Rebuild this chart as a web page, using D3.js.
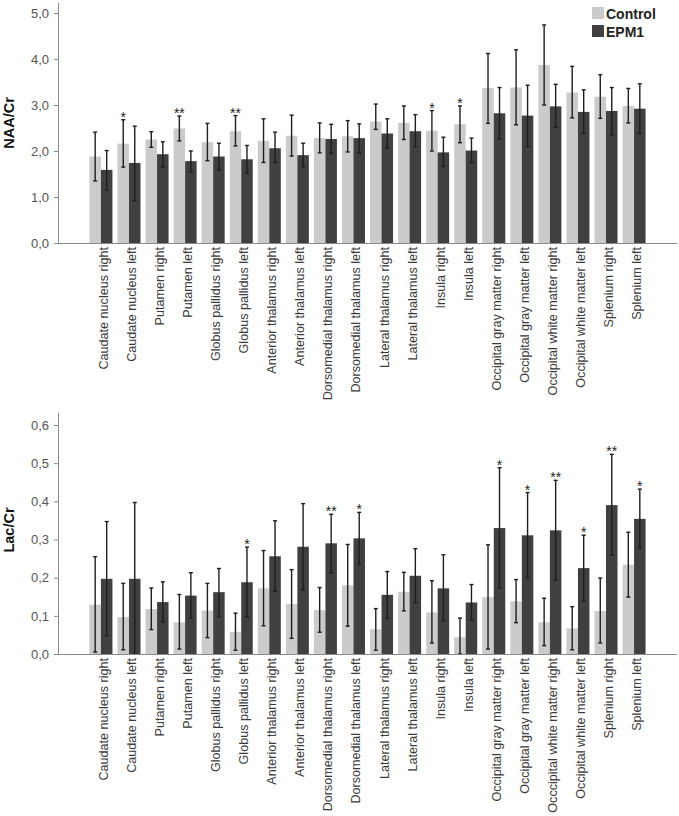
<!DOCTYPE html>
<html>
<head>
<meta charset="utf-8">
<script src="https://cdn.jsdelivr.net/npm/d3@7"></script>
<style>
  body { margin: 0; background: #fff; }
  svg { display: block; font-family: "Liberation Sans", Arial, sans-serif; }
</style>
</head>
<body>
<div id="chart"></div>
<script>
// ---------- DATA ----------
const categoriesTop = ["Caudate nucleus right","Caudate nucleus left","Putamen right","Putamen left","Globus pallidus right","Globus pallidus left","Anterior thalamus right","Anterior thalamus left","Dorsomedial thalamus right","Dorsomedial thalamus left","Lateral thalamus right","Lateral thalamus left","Insula right","Insula left","Occipital gray matter right","Occipital gray matter left","Occipital white matter right","Occipital white matter left","Splenium right","Splenium left"];
const categoriesBottom = ["Caudate nucleus right","Caudate nucleus left","Putamen right","Putamen left","Globus pallidus right","Globus pallidus left","Anterior thalamus right","Anterior thalamus left","Dorsomedial thalamus right","Dorsomedial thalamus left","Lateral thalamus right","Lateral thalamus left","Insula right","Insula left","Occipital gray matter right","Occipital gray matter left","Occcipital white matter right","Occipital white matter left","Splenium right","Splenium left"];
const seriesNames = ["Control","EPM1"];

// NAA/Cr
const naaControl     = [1.88,2.16,2.25,2.49,2.19,2.43,2.22,2.33,2.28,2.32,2.64,2.61,2.44,2.58,3.37,3.38,3.87,3.27,3.18,2.98];
const naaControlLow  = [1.35,1.65,2.08,2.22,1.79,2.11,1.75,1.89,1.96,1.98,2.47,2.25,2.00,2.18,2.60,2.57,3.00,2.72,2.71,2.61];
const naaControlHigh = [2.41,2.68,2.42,2.76,2.60,2.77,2.70,2.78,2.61,2.66,3.02,2.98,2.88,2.98,4.12,4.20,4.74,3.84,3.66,3.36];
const naaEpm         = [1.59,1.74,1.93,1.78,1.88,1.82,2.06,1.91,2.26,2.28,2.38,2.43,1.97,2.01,2.82,2.77,2.97,2.85,2.87,2.92];
const naaEpmLow      = [1.15,0.92,1.65,1.55,1.59,1.52,1.75,1.66,1.95,1.96,2.06,2.09,1.67,1.75,2.26,2.10,2.51,2.38,2.35,2.38];
const naaEpmHigh     = [2.01,2.54,2.20,2.00,2.17,2.12,2.41,2.17,2.58,2.59,2.70,2.79,2.30,2.28,3.38,3.43,3.45,3.33,3.38,3.46];
const naaStars       = ["","*","","**","","**","","","","","","","*","*","","","","","",""];
const naaTicks       = [0,1,2,3,4,5];

// Lac/Cr
const lacControl     = [0.129,0.097,0.118,0.083,0.114,0.058,0.172,0.131,0.115,0.180,0.065,0.163,0.109,0.044,0.149,0.138,0.083,0.067,0.113,0.234];
const lacControlLow  = [0.005,0.011,0.064,0.013,0.043,0.010,0.074,0.041,0.057,0.073,0.010,0.113,0.029,0.000,0.013,0.082,0.022,0.011,0.029,0.149];
const lacControlHigh = [0.255,0.185,0.173,0.156,0.185,0.107,0.271,0.221,0.174,0.287,0.119,0.214,0.192,0.094,0.286,0.195,0.146,0.124,0.199,0.319];
const lacEpm         = [0.197,0.197,0.136,0.153,0.162,0.188,0.256,0.281,0.290,0.303,0.155,0.205,0.172,0.135,0.330,0.311,0.324,0.225,0.390,0.354];
const lacEpmLow      = [0.048,0.000,0.084,0.094,0.098,0.097,0.164,0.168,0.213,0.234,0.094,0.134,0.087,0.089,0.173,0.199,0.193,0.139,0.259,0.278];
const lacEpmHigh     = [0.347,0.397,0.189,0.213,0.224,0.280,0.349,0.394,0.366,0.371,0.216,0.276,0.260,0.182,0.488,0.423,0.455,0.311,0.523,0.432];
const lacStars       = ["","","","","","*","","","**","*","","","","","*","*","**","*","**","*"];
const lacTicks       = [0,0.1,0.2,0.3,0.4,0.5,0.6];

// ---------- STYLE ----------
const W = 679, H = 816;
const colors = { Control: "#cbcbcb", EPM1: "#404040" };
const axisColor = "#8a8a8a";
const textColor = "#555";

const svg = d3.select("#chart").append("svg").attr("width", W).attr("height", H);

function drawPanel(opt) {
  const g = svg.append("g");
  const x0 = d3.scaleBand().domain(opt.cats).range([58, 677]).paddingInner(0.18).paddingOuter(1.12);
  const x1 = d3.scaleBand().domain(seriesNames).range([0, x0.bandwidth()]).padding(0);
  const y = d3.scaleLinear().domain(opt.domain).range([opt.yBottom, opt.yTop]);

  const rows = opt.cats.map((c, i) => ({
    cat: c,
    star: opt.stars[i],
    vals: [
      { s: "Control", v: opt.ctrl[i], lo: opt.ctrlLo[i], hi: opt.ctrlHi[i] },
      { s: "EPM1", v: opt.epm[i], lo: opt.epmLo[i], hi: opt.epmHi[i] }
    ]
  }));

  // y axis
  const yAxis = d3.axisLeft(y).tickValues(opt.ticks).tickSize(4).tickPadding(5)
    .tickFormat(d => d3.format(".1f")(d).replace(".", ","));
  const ya = g.append("g").attr("transform", "translate(58,0)").call(yAxis);
  ya.select(".domain").remove();
  ya.selectAll(".tick line").attr("stroke", axisColor);
  ya.selectAll(".tick text").attr("fill", textColor).style("font-size", "13px")
    .style("font-family", "'Liberation Sans', Arial, sans-serif");
  g.append("line").attr("x1", 58.5).attr("x2", 58.5)
    .attr("y1", y(opt.axisTopVal)).attr("y2", opt.yBottom).attr("stroke", axisColor);

  // bars
  const groups = g.selectAll("g.grp").data(rows).join("g").attr("class", "grp")
    .attr("transform", d => `translate(${x0(d.cat)},0)`);
  groups.selectAll("rect").data(d => d.vals).join("rect")
    .attr("x", d => x1(d.s)).attr("width", x1.bandwidth())
    .attr("y", d => y(d.v)).attr("height", d => y(0) - y(d.v))
    .attr("fill", d => colors[d.s]);

  // error bars
  const eb = groups.selectAll("g.eb").data(d => d.vals).join("g").attr("class", "eb")
    .attr("stroke", "#1e1e1e").attr("stroke-width", 1.4);
  eb.append("line")
    .attr("x1", d => x1(d.s) + x1.bandwidth() / 2).attr("x2", d => x1(d.s) + x1.bandwidth() / 2)
    .attr("y1", d => y(d.lo)).attr("y2", d => y(d.hi));
  eb.append("line")
    .attr("x1", d => x1(d.s) + x1.bandwidth() / 2 - 2).attr("x2", d => x1(d.s) + x1.bandwidth() / 2 + 2)
    .attr("y1", d => y(d.hi)).attr("y2", d => y(d.hi));
  eb.append("line")
    .attr("x1", d => x1(d.s) + x1.bandwidth() / 2 - 2).attr("x2", d => x1(d.s) + x1.bandwidth() / 2 + 2)
    .attr("y1", d => y(d.lo)).attr("y2", d => y(d.lo));

  // stars
  groups.filter(d => d.star).append("text")
    .attr("x", d => {
      const top = d.vals[0].hi >= d.vals[1].hi ? d.vals[0] : d.vals[1];
      return x1(top.s) + x1.bandwidth() / 2;
    })
    .attr("y", d => y(Math.max(d.vals[0].hi, d.vals[1].hi)) + 2)
    .attr("text-anchor", "middle").attr("fill", "#222").style("font-size", "14px")
    .text(d => d.star);

  // x axis line
  g.append("line").attr("x1", 58).attr("x2", 677)
    .attr("y1", opt.yBottom + 0.5).attr("y2", opt.yBottom + 0.5).attr("stroke", axisColor);

  // category labels
  g.selectAll("text.cat").data(rows).join("text").attr("class", "cat")
    .attr("transform", d => `translate(${x0(d.cat) + x0.bandwidth() / 2 + 7},${opt.yBottom + 4}) rotate(-90)`)
    .attr("text-anchor", "end").attr("fill", "#3a3a3a").style("font-size", "12.6px")
    .text(d => d.cat);

  // y title
  g.append("text")
    .attr("transform", `translate(14,${opt.titleY}) rotate(-90)`)
    .attr("text-anchor", "middle").attr("fill", "#111")
    .style("font-size", "14.5px").style("font-weight", "bold")
    .text(opt.title);
}

drawPanel({
  cats: categoriesTop, domain: [0, 5], yBottom: 243, yTop: 13, axisTopVal: 5.22,
  ctrl: naaControl, ctrlLo: naaControlLow, ctrlHi: naaControlHigh,
  epm: naaEpm, epmLo: naaEpmLow, epmHi: naaEpmHigh,
  stars: naaStars, ticks: naaTicks, title: "NAA/Cr", titleY: 123
});

drawPanel({
  cats: categoriesBottom, domain: [0, 0.6], yBottom: 654, yTop: 425, axisTopVal: 0.632,
  ctrl: lacControl, ctrlLo: lacControlLow, ctrlHi: lacControlHigh,
  epm: lacEpm, epmLo: lacEpmLow, epmHi: lacEpmHigh,
  stars: lacStars, ticks: lacTicks, title: "Lac/Cr", titleY: 530
});

// legend
const leg = svg.append("g");
seriesNames.forEach((s, i) => {
  leg.append("rect").attr("x", 592).attr("y", 7 + i * 18).attr("width", 12).attr("height", 12)
    .attr("fill", colors[s]);
  leg.append("text").attr("x", 606).attr("y", 19 + i * 18)
    .style("font-size", "14px").style("font-weight", "bold").attr("fill", "#222").text(s);
});
</script>
</body>
</html>
